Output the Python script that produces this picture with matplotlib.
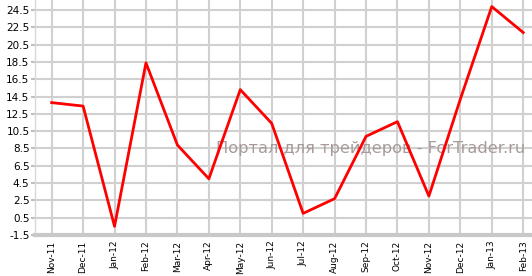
import numpy as np
import matplotlib.pyplot as plt

months = ["Nov-11", "Dec-11", "Jan-12", "Feb-12", "Mar-12", "Apr-12", "May-12", "Jun-12",
          "Jul-12", "Aug-12", "Sep-12", "Oct-12", "Nov-12", "Dec-12", "Jan-13", "Feb-13"]
values = [13.8, 13.4, -0.5, 18.4, 8.9, 5.0, 15.3, 11.4,
          1.0, 2.7, 9.9, 11.6, 3.0, 14.2, 24.9, 21.9]
yticks = np.arange(-1.5, 25, 2)

fig = plt.figure(figsize=(5.32, 2.76), dpi=100)
ax = fig.add_axes([35/532, 1 - 235/276, 497/532, 235/276])

x = np.arange(len(months))
ax.plot(x, values, color="#ff0000", lw=2, zorder=3)

ax.set_xlim(-0.53, 15.28)
ax.set_ylim(-1.5, 25.66)
ax.set_xticks(x)
ax.set_xticklabels(months, rotation=90, fontsize=6.5)
ax.set_yticks(yticks)
ax.set_yticklabels([f"{t:.1f}" for t in yticks], fontsize=7.5)
ax.grid(True, color="#d0d0d0", lw=1.5)
ax.set_axisbelow(True)

for s in ["top", "right"]:
    ax.spines[s].set_visible(False)
ax.spines["left"].set_color("#d8d8d8")
ax.spines["left"].set_linewidth(1)
ax.spines["bottom"].set_color("#c8c8c8")
ax.spines["bottom"].set_linewidth(3)
ax.tick_params(axis="y", length=3, width=1.5, color="#c0c0c0", pad=1)
ax.tick_params(axis="x", length=0, pad=4)

ax.text(0.986, 0.37, "Портал для трейдеров - ForTrader.ru", transform=ax.transAxes,
        ha="right", va="center", fontsize=11.7, color="#a89a9a", zorder=2)

fig.savefig("out.png", dpi=100)
